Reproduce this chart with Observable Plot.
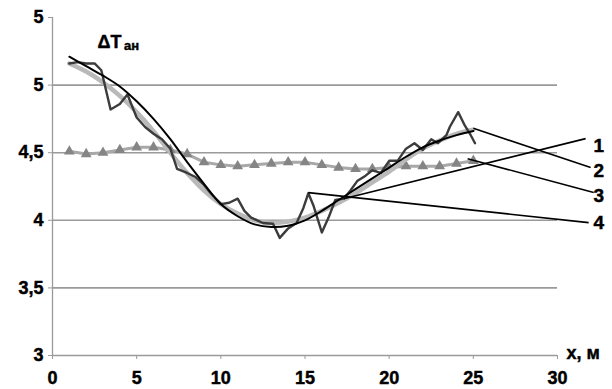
<!DOCTYPE html>
<html>
<head>
<meta charset="utf-8">
<script src="https://cdn.jsdelivr.net/npm/d3@7"></script>
<script src="https://cdn.jsdelivr.net/npm/@observablehq/plot@0.6"></script>
<style>
  html, body { margin: 0; padding: 0; background: #fff; }
  #chart svg { display: block; }
  #chart svg text { font-weight: 700; font-family: Arial, 'Liberation Sans', sans-serif; stroke: #000; stroke-width: 0.45px; paint-order: stroke; }
</style>
</head>
<body>
<div id="chart"></div>
<script>
// ---- data ----
const yTicks = [3, 3.5, 4, 4.5, 5, 5.5];
const yTickLabels = ["3", "3,5", "4", "4,5", "5", "5"];
const xTicks = [0, 5, 10, 15, 20, 25, 30];
const xTickLabels = ["0", "5", "10", "15", "20", "25", "30"];
const gridValues = [3.5, 4, 4.5, 5];

// series 1: smooth black curve
const s1X = [1, 2, 3, 4, 5, 6, 7, 8, 9, 10, 11, 12, 13, 14, 15, 16, 17, 18, 19, 20, 21, 22, 23, 24, 25];
const s1Y = [5.21, 5.14, 5.07, 4.99, 4.88, 4.75, 4.60, 4.43, 4.27, 4.12, 4.03, 3.97, 3.95, 3.96, 4.00, 4.07, 4.15, 4.23, 4.31, 4.39, 4.47, 4.54, 4.59, 4.63, 4.66];

// series 2: thick light-grey curve
const s2X = [1, 2, 3, 4, 5, 6, 7, 8, 9, 10, 11, 12, 13, 14, 15, 16, 17, 18, 19, 20, 21, 22, 23, 24, 25];
const s2Y = [5.16, 5.10, 5.02, 4.92, 4.80, 4.66, 4.50, 4.35, 4.22, 4.12, 4.05, 4.00, 3.98, 3.99, 4.02, 4.07, 4.13, 4.20, 4.28, 4.36, 4.45, 4.53, 4.59, 4.64, 4.67];

// series 3: grey triangles
const s3X = [1, 2, 3, 4, 5, 6, 7, 8, 9, 10, 11, 12, 13, 14, 15, 16, 17, 18, 19, 20, 21, 22, 23, 24, 25];
const s3Y = [4.51, 4.49, 4.50, 4.52, 4.54, 4.54, 4.52, 4.49, 4.43, 4.41, 4.40, 4.41, 4.42, 4.43, 4.43, 4.41, 4.39, 4.38, 4.38, 4.39, 4.40, 4.40, 4.40, 4.42, 4.44];

// series 4: jagged dark-grey measurements
const s4X = [1.0, 1.5, 2.0, 2.5, 2.9, 3.45, 4.0, 4.45, 5.0, 5.5, 6.0, 6.5, 7.0, 7.4, 8.0, 8.5, 9.0, 9.4, 10.0, 10.5, 11.0, 11.4, 11.8, 12.5, 13.1, 13.5, 14.0, 14.5, 14.9, 15.2, 15.5, 16.0, 16.4, 16.8, 17.3, 17.7, 18.1, 18.6, 19.0, 19.5, 20.0, 20.5, 21.0, 21.5, 22.0, 22.5, 22.9, 23.4, 23.6, 24.1, 24.5, 24.8, 25.1];
const s4Y = [5.16, 5.17, 5.16, 5.16, 5.11, 4.82, 4.86, 4.93, 4.76, 4.69, 4.64, 4.60, 4.53, 4.38, 4.35, 4.32, 4.26, 4.20, 4.12, 4.13, 4.16, 4.07, 4.02, 3.98, 3.975, 3.87, 3.94, 3.98, 4.09, 4.20, 4.11, 3.91, 4.02, 4.15, 4.16, 4.22, 4.29, 4.33, 4.37, 4.35, 4.44, 4.44, 4.53, 4.57, 4.52, 4.60, 4.57, 4.63, 4.69, 4.80, 4.70, 4.64, 4.57];

// callouts (data units): from a point on the curve to the number label
const calloutNames = ["1", "2", "3", "4"];
const calloutFromX = [17.3, 25.0, 24.66, 15.2];
const calloutFromY = [4.16, 4.68, 4.456, 4.205];
const calloutToX = [31.67, 31.97, 32.15, 31.85];
const calloutToY = [4.604, 4.39, 4.205, 3.983];
const calloutLabelX = [32.45, 32.45, 32.45, 32.45];
const calloutLabelY = [4.552, 4.367, 4.183, 3.983];

const yTitle = "ΔT";
const yTitleSub = "ан";
const xTitle = "x, м";

// ---- build tables ----
const zip = (xs, ys) => xs.map((x, i) => ({x, y: ys[i]}));
const d1 = zip(s1X, s1Y), d2 = zip(s2X, s2Y), d3s = zip(s3X, s3Y), d4 = zip(s4X, s4Y);
const callouts = calloutNames.map((name, i) => ({
  name, x1: calloutFromX[i], y1: calloutFromY[i], x2: calloutToX[i], y2: calloutToY[i],
  lx: calloutLabelX[i], ly: calloutLabelY[i]
}));
const yLab = new Map(yTicks.map((t, i) => [t, yTickLabels[i]]));
const xLab = new Map(xTicks.map((t, i) => [t, xTickLabels[i]]));

const axisGrey = "#9a9a9a";
const font = "Arial, 'Liberation Sans', sans-serif";

const chart = Plot.plot({
  width: 612,
  height: 389,
  marginLeft: 52,
  marginRight: 55,
  marginTop: 17,
  marginBottom: 34,
  style: {fontFamily: font, background: "#fff", color: "#000", overflow: "visible"},
  x: {domain: [0, 30], axis: null},
  y: {domain: [3, 5.5], axis: null},
  marks: [
    Plot.ruleY(gridValues, {x1: 0, x2: 30, stroke: axisGrey, strokeWidth: 1.6}),
    Plot.ruleX([0], {y1: 3, y2: 5.5, stroke: axisGrey, strokeWidth: 1.3}),
    Plot.ruleY([3], {x1: 0, x2: 30, stroke: axisGrey, strokeWidth: 1.3}),
    Plot.axisY(yTicks, {tickSize: 4, tickPadding: 5, stroke: axisGrey, fill: "#000",
      fontSize: 18, fontWeight: "bold", tickFormat: d => yLab.get(d)}),
    Plot.axisX(xTicks, {tickSize: 4, tickPadding: 12, stroke: axisGrey, fill: "#000",
      fontSize: 18, fontWeight: "bold", tickFormat: d => xLab.get(d)}),
    // series 3: triangles
    Plot.line(d3s, {x: "x", y: "y", stroke: "#a8a8a8", strokeWidth: 3}),
    Plot.dot(d3s, {x: "x", y: "y", symbol: "triangle", r: 4, fill: "#858585", stroke: "none"}),
    // series 2: thick light grey
    Plot.line(d2, {x: "x", y: "y", stroke: "#b9b9b9", strokeWidth: 4.5, curve: "catmull-rom"}),
    // series 4: jagged
    Plot.line(d4, {x: "x", y: "y", stroke: "#3c3c3c", strokeWidth: 2.4, strokeLinejoin: "round"}),
    // series 1: smooth black
    Plot.line(d1, {x: "x", y: "y", stroke: "#000", strokeWidth: 2, curve: "catmull-rom"}),
    // callouts
    Plot.link(callouts, {x1: "x1", y1: "y1", x2: "x2", y2: "y2", stroke: "#000", strokeWidth: 1.6, clip: false}),
    Plot.text(callouts, {x: "lx", y: "ly", text: "name", fontSize: 19, fontWeight: "bold", fill: "#000", clip: false}),
    // axis titles
    Plot.text([xTitle], {x: 30, y: 3, dx: 9, dy: -2, textAnchor: "start", fontSize: 18, fontWeight: "bold", fill: "#000", clip: false}),
    Plot.text([yTitle], {x: 2.67, y: 5.276, textAnchor: "start", lineAnchor: "bottom", fontSize: 18, fontWeight: "bold", fill: "#000"}),
    Plot.text([yTitleSub], {x: 4.25, y: 5.26, textAnchor: "start", lineAnchor: "bottom", fontSize: 13, fontWeight: "bold", fill: "#000"})
  ]
});
document.getElementById("chart").appendChild(chart);
</script>
</body>
</html>
